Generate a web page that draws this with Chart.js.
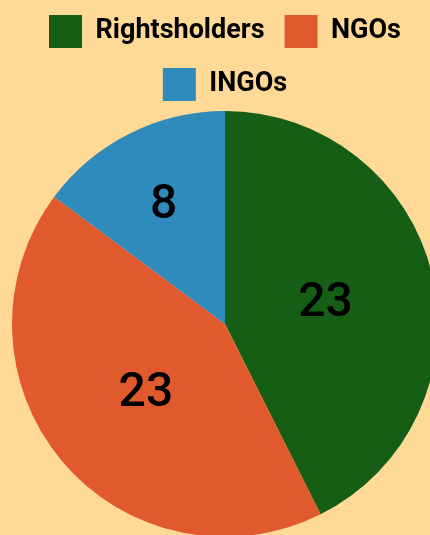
<!DOCTYPE html>
<html>
<head>
<meta charset="utf-8">
<script src="https://cdn.jsdelivr.net/npm/chart.js@4.4.1/dist/chart.umd.min.js"></script>
<style>
  html, body { margin: 0; padding: 0; background: #ffd996; overflow: hidden; }
  #wrap { width: 450px; height: 542px; margin-top: -5px; }
</style>
</head>
<body>
<div id="wrap"><canvas id="chart"></canvas></div>
<script>
const categories = ['Rightsholders', 'NGOs', 'INGOs'];
const counts = [23, 23, 8];
const sliceColors = ['#165e15', '#e05a2e', '#2e8bbb'];

// draws the value inside each slice, at the slice centroid
const sliceLabels = {
    id: 'sliceLabels',
    afterDatasetsDraw(chart) {
        const ctx = chart.ctx;
        const meta = chart.getDatasetMeta(0);
        ctx.save();
        ctx.font = '500 48px Roboto';
        ctx.fillStyle = '#000';
        ctx.textAlign = 'center';
        ctx.textBaseline = 'middle';
        meta.data.forEach((arc, i) => {
            const { x, y, startAngle, endAngle, outerRadius } = arc.getProps(['x', 'y', 'startAngle', 'endAngle', 'outerRadius'], true);
            const half = (endAngle - startAngle) / 2;
            const mid = startAngle + half;
            const dist = (2 / 3) * outerRadius * Math.sin(half) / half;
            ctx.fillText(String(counts[i]), x + Math.cos(mid) * dist, y + Math.sin(mid) * dist + 4);
        });
        ctx.restore();
    }
};

new Chart(document.getElementById('chart'), {
    type: 'pie',
    data: {
        labels: categories,
        datasets: [{
            data: counts,
            backgroundColor: sliceColors,
            borderWidth: 0
        }]
    },
    options: {
        responsive: true,
        maintainAspectRatio: false,
        animation: false,
        layout: { padding: 0 },
        plugins: {
            tooltip: { enabled: false },
            legend: {
                position: 'top',
                labels: {
                    boxWidth: 33,
                    boxHeight: 33,
                    padding: 20,
                    color: '#000',
                    font: { family: 'Roboto', size: 27, weight: 'bold' }
                }
            }
        }
    },
    plugins: [sliceLabels]
});
</script>
</body>
</html>
